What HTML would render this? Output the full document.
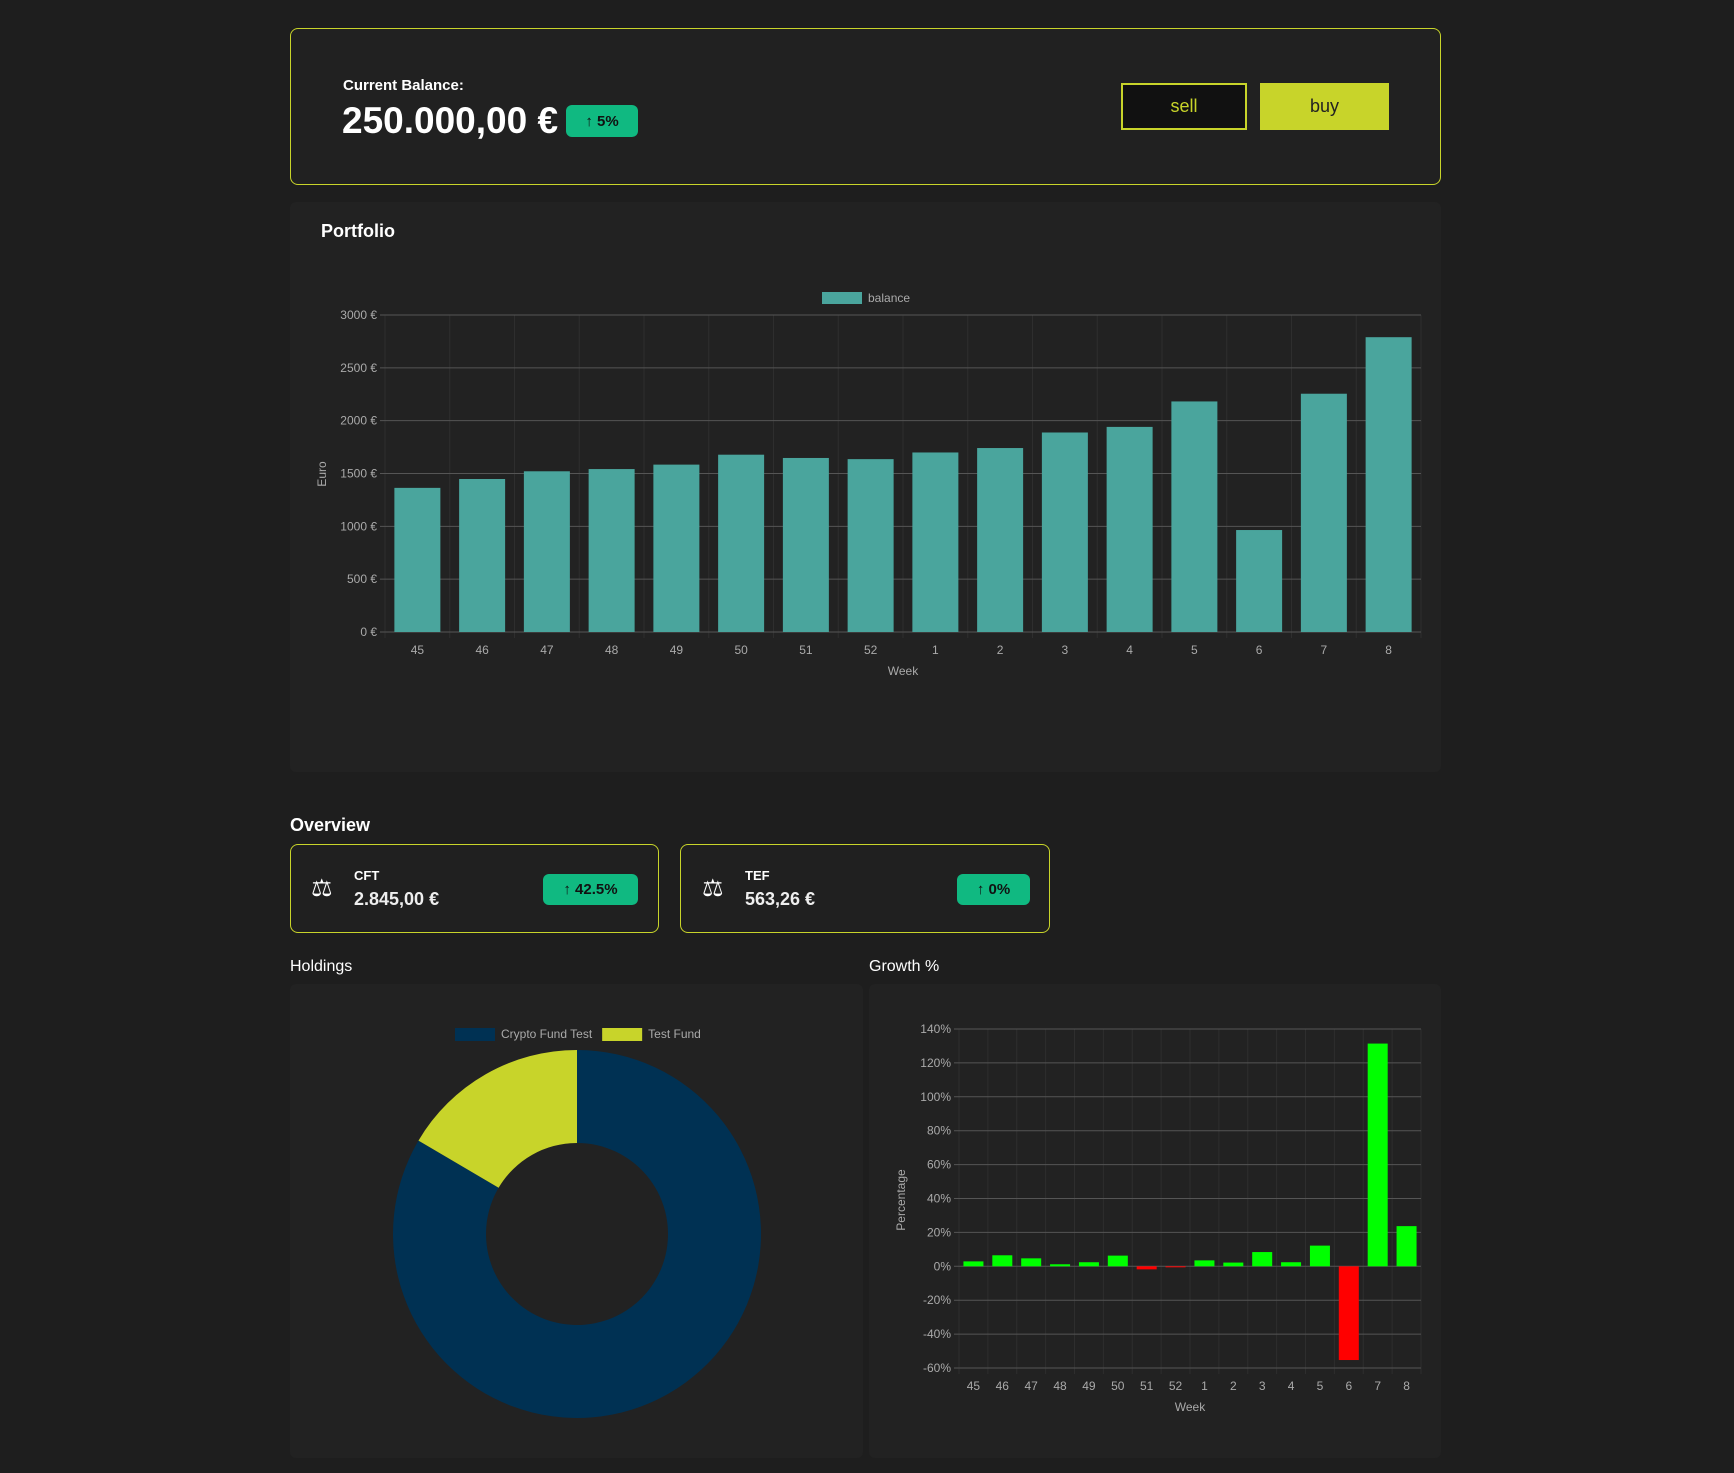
<!DOCTYPE html>
<html><head><meta charset="utf-8"><style>
*{box-sizing:border-box;margin:0;padding:0}
body{width:1734px;height:1473px;background:#1e1e1e;font-family:"Liberation Sans",sans-serif;color:#fff;position:relative;overflow:hidden}
.abs{position:absolute}
.badge{background:#10b981;color:#111;border-radius:6px;font-weight:bold;display:flex;align-items:center;justify-content:center}
.card{border:1.5px solid #c8d42a;border-radius:8px;background:#202020}
.panel{background:#222;border-radius:6px}
</style></head><body>
<div class="abs card" style="left:290px;top:28px;width:1151px;height:157px;background:#212121"></div>
<div class="abs" style="left:343px;top:77px;font-size:15px;font-weight:bold">Current Balance:</div>
<div class="abs" style="left:342px;top:100px;font-size:37px;font-weight:bold">250.000,00 €</div>
<div class="abs badge" style="left:566px;top:105px;width:72px;height:32px;font-size:15px">↑ 5%</div>
<div class="abs" style="left:1121px;top:83px;width:126px;height:47px;background:#111;border:2px solid #c8d42a;color:#c8d42a;font-size:18px;display:flex;align-items:center;justify-content:center">sell</div>
<div class="abs" style="left:1260px;top:83px;width:129px;height:47px;background:#c8d42a;color:#222;font-size:18px;display:flex;align-items:center;justify-content:center">buy</div>

<div class="abs panel" style="left:290px;top:202px;width:1151px;height:570px"></div>
<div class="abs" style="left:321px;top:221px;font-size:18px;font-weight:bold">Portfolio</div>
<svg class="abs" style="left:0;top:0" width="1734" height="1473" id="svg"></svg>

<div class="abs" style="left:290px;top:815px;font-size:18px;font-weight:bold">Overview</div>
<div class="abs card" style="left:290px;top:844px;width:369px;height:89px"></div>
<div class="abs" style="left:311px;top:874px;font-size:24px">⚖</div>
<div class="abs" style="left:354px;top:868px;font-size:13px;font-weight:bold">CFT</div>
<div class="abs" style="left:354px;top:889px;font-size:18px;font-weight:bold;color:#eee">2.845,00 €</div>
<div class="abs badge" style="left:543px;top:874px;width:95px;height:31px;font-size:15px">↑ 42.5%</div>
<div class="abs card" style="left:680px;top:844px;width:370px;height:89px"></div>
<div class="abs" style="left:702px;top:874px;font-size:24px">⚖</div>
<div class="abs" style="left:745px;top:868px;font-size:13px;font-weight:bold">TEF</div>
<div class="abs" style="left:745px;top:889px;font-size:18px;font-weight:bold;color:#eee">563,26 €</div>
<div class="abs badge" style="left:957px;top:874px;width:73px;height:31px;font-size:15px">↑ 0%</div>

<div class="abs" style="left:290px;top:958px;font-size:16px">Holdings</div>
<div class="abs" style="left:869px;top:958px;font-size:16px">Growth %</div>
<div class="abs panel" style="left:290px;top:984px;width:573px;height:474px;z-index:-1"></div>
<div class="abs panel" style="left:869px;top:984px;width:572px;height:474px;z-index:-1"></div>

<script>
const weeks=["45","46","47","48","49","50","51","52","1","2","3","4","5","6","7","8"];
const balance=[1364,1448,1521,1542,1584,1678,1647,1636,1699,1741,1888,1941,2182,965,2255,2790];
const balanceTicks=[0,500,1000,1500,2000,2500,3000];
const growth=[2.9,6.5,4.7,1.2,2.4,6.3,-1.8,-0.6,3.5,2.2,8.4,2.4,12.2,-55.3,131.4,23.7];
const growthTicks=[-60,-40,-20,0,20,40,60,80,100,120,140];
const holdingLabels=["Crypto Fund Test","Test Fund"];
const holdingValues=[2845,563.26];
const holdingColors=["#003153","#c8d42a"];

const svg=document.getElementById('svg');
const NS='http://www.w3.org/2000/svg';
function mk(tag,attrs,name,parent){const e=document.createElementNS(NS,tag);for(const k in attrs)e.setAttribute(k,attrs[k]);


(parent||svg).appendChild(e);return e;}
function txt(x,y,s,name,opts){const t=mk('text',Object.assign({x:x,y:y,fill:'#aaa','font-size':12,'font-family':'Liberation Sans, sans-serif'},opts||{}),name);t.textContent=s;return t;}

function barChart(o){
  const {left,right,top,bottom,min,max,ticks,vals,fmt,colorFn,bw,name}=o;
  const ys=v=>bottom-(v-min)/(max-min)*(bottom-top);
  const step=(right-left)/weeks.length;
  const xs=i=>left+step*(i+0.5);
  for(let i=0;i<=weeks.length;i++){mk('line',{x1:left+step*i,x2:left+step*i,y1:top,y2:bottom+6,stroke:'#2e2e2e'},name+'-vgrid');}
  ticks.forEach(t=>{mk('line',{x1:left-5,x2:right,y1:ys(t),y2:ys(t),stroke:'#555'},name+'-hgrid');
    txt(left-8,ys(t)+4,fmt(t),name+'-y-tick',{'text-anchor':'end'});});
  vals.forEach((v,i)=>{const y0=ys(0),y1=ys(v);
    mk('rect',{x:xs(i)-bw/2,y:Math.min(y0,y1),width:bw,height:Math.abs(y1-y0),fill:colorFn(v)},name+'-bar-'+weeks[i]);
    txt(xs(i),bottom+22,weeks[i],name+'-x-tick',{'text-anchor':'middle'});});
  txt((left+right)/2,bottom+43,'Week',name+'-x-axis-title',{'text-anchor':'middle'});
}
barChart({left:385,right:1421,top:315,bottom:632,min:0,max:3000,ticks:balanceTicks,vals:balance,fmt:t=>t+' €',colorFn:()=>'#4aa59d',bw:46,name:'portfolio'});
txt(326,474,'Euro','portfolio-y-axis-title',{'text-anchor':'middle',transform:'rotate(-90 326 474)'});
mk('rect',{x:822,y:292,width:40,height:12,fill:'#4aa59d'},'legend-balance-swatch');
txt(868,302,'balance','legend-balance-label');

barChart({left:959,right:1421,top:1029,bottom:1368,min:-60,max:140,ticks:growthTicks,vals:growth,fmt:t=>t+'%',colorFn:v=>v>=0?'#00ff00':'#ff0000',bw:20,name:'growth'});
txt(905,1200,'Percentage','growth-y-axis-title',{'text-anchor':'middle',transform:'rotate(-90 905 1200)'});

// donut
const cx=577,cy=1234,R=184,r=91;
const total=holdingValues.reduce((a,b)=>a+b,0);
let ang=0;
holdingValues.forEach((v,i)=>{
  const a0=ang,a1=ang+v/total*Math.PI*2;ang=a1;
  const p=(a,rad)=>[cx+rad*Math.sin(a),cy-rad*Math.cos(a)];
  const [x0,y0]=p(a0,R),[x1,y1]=p(a1,R),[x2,y2]=p(a1,r),[x3,y3]=p(a0,r);
  const lg=(a1-a0)>Math.PI?1:0;
  mk('path',{d:`M${x0},${y0}A${R},${R} 0 ${lg} 1 ${x1},${y1}L${x2},${y2}A${r},${r} 0 ${lg} 0 ${x3},${y3}Z`,fill:holdingColors[i]},'donut-slice-'+i);
});
let lx=455;
holdingLabels.forEach((l,i)=>{
  mk('rect',{x:lx,y:1028,width:40,height:13,fill:holdingColors[i]},'holdings-legend-swatch');
  const t=txt(lx+46,1038,l,'holdings-legend-label');
  lx+=46+t.getComputedTextLength()+10;
});
</script>
</body></html>
